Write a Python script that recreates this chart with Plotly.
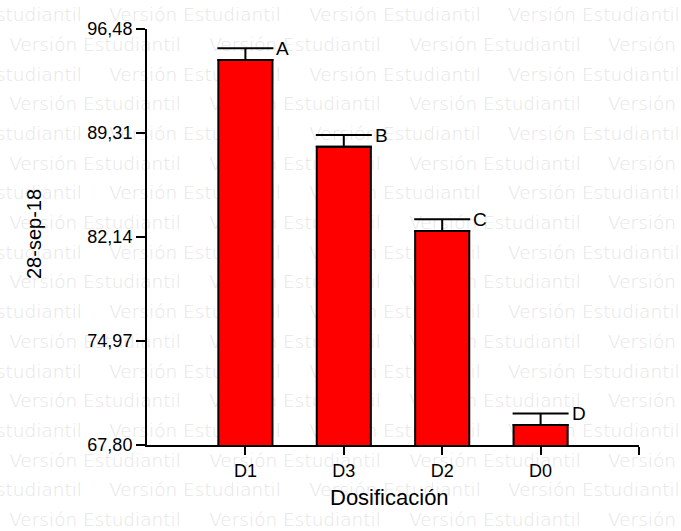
import plotly.graph_objects as go

# Mean response per dose, with its standard error and grouping letter
categories = ["D1", "D3", "D2", "D0"]
means = [94.34, 88.37, 82.55, 69.18]
errors = [0.81, 0.80, 0.81, 0.80]
letters = ["A", "B", "C", "D"]

y_ticks = [67.80, 74.97, 82.14, 89.31, 96.48]
y_tick_labels = ["67,80", "74,97", "82,14", "89,31", "96,48"]

W, H = 681, 531
positions = [i + 1 for i in range(len(categories))]

fig = go.Figure()

# Background "Versión Estudiantil" tiling on a full-page pixel axis
WM_TEXT_W = 174
wm_x, wm_y, wm_pos = [], [], []
for row in range(18):
    yc = 16.5 + 29.7 * row
    offset = 8 if row % 2 else -92
    for k in range(5):
        left = offset + 200 * k
        if left >= W:
            continue
        if left < 0:
            # piece cut by the left edge: anchor at its right end
            wm_x.append(left + WM_TEXT_W)
            wm_pos.append("middle left")
        elif left + WM_TEXT_W > W:
            # piece cut by the right edge: anchor at its left end
            wm_x.append(left)
            wm_pos.append("middle right")
        else:
            wm_x.append(left + WM_TEXT_W / 2)
            wm_pos.append("middle center")
        wm_y.append(yc)
fig.add_trace(go.Scatter(
    x=wm_x, y=wm_y, mode="text",
    text=["Versión Estudiantil"] * len(wm_x),
    textposition=wm_pos,
    textfont=dict(family="DejaVu Sans", size=18.5, color="#e6e6e6", weight=300),
    cliponaxis=False, hoverinfo="skip", showlegend=False,
    xaxis="x", yaxis="y",
))

# Bars with upper error bars
fig.add_trace(go.Bar(
    x=positions, y=means, width=0.55,
    marker=dict(color="#ff0000", line=dict(color="black", width=2)),
    error_y=dict(type="data", array=errors, arrayminus=[0] * len(errors),
                 symmetric=False, color="black", thickness=2, width=28),
    showlegend=False, xaxis="x2", yaxis="y2",
))

# Grouping letters beside each cap
for p, m, e, t in zip(positions, means, errors, letters):
    fig.add_annotation(
        x=p, y=m + e, xref="x2", yref="y2", text=t, showarrow=False,
        xanchor="left", yanchor="middle", xshift=29,
        font=dict(family="Liberation Sans, Arial", size=19, color="black"),
    )

# Axis titles
fig.add_annotation(
    x=389, y=497, xref="x", yref="y", text="Dosificación", showarrow=False,
    xanchor="center", yanchor="middle",
    font=dict(family="Liberation Sans, Arial", size=22, color="black"),
)
fig.add_annotation(
    x=34, y=234, xref="x", yref="y", text="28-sep-18", showarrow=False,
    textangle=-90, xanchor="center", yanchor="middle",
    font=dict(family="Liberation Sans, Arial", size=20, color="black"),
)

axis_font = dict(family="Liberation Sans, Arial", size=18, color="black")
fig.update_layout(
    template="none",
    width=W, height=H,
    margin=dict(l=0, r=0, t=0, b=0, autoexpand=False),
    paper_bgcolor="white", plot_bgcolor="rgba(0,0,0,0)",
    xaxis=dict(domain=[0, 1], range=[0, W], visible=False,
               fixedrange=True, automargin=False),
    yaxis=dict(domain=[0, 1], range=[H, 0], visible=False,
               fixedrange=True, automargin=False),
    xaxis2=dict(
        domain=[147 / W, 639 / W], range=[0, 5], anchor="y2", automargin=False,
        tickvals=positions + [5], ticktext=categories + [""],
        ticks="outside", ticklen=8, tickwidth=2, tickcolor="black",
        showline=True, linecolor="black", linewidth=2,
        showgrid=False, zeroline=False, tickfont=axis_font,
    ),
    yaxis2=dict(
        domain=[86 / H, 502 / H], range=[y_ticks[0], y_ticks[-1]], anchor="x2",
        automargin=False,
        tickvals=y_ticks, ticktext=y_tick_labels,
        ticks="outside", ticklen=9, tickwidth=2, tickcolor="black",
        showline=True, linecolor="black", linewidth=2,
        showgrid=False, zeroline=False, tickfont=axis_font,
    ),
)

fig.write_html("out.html")
